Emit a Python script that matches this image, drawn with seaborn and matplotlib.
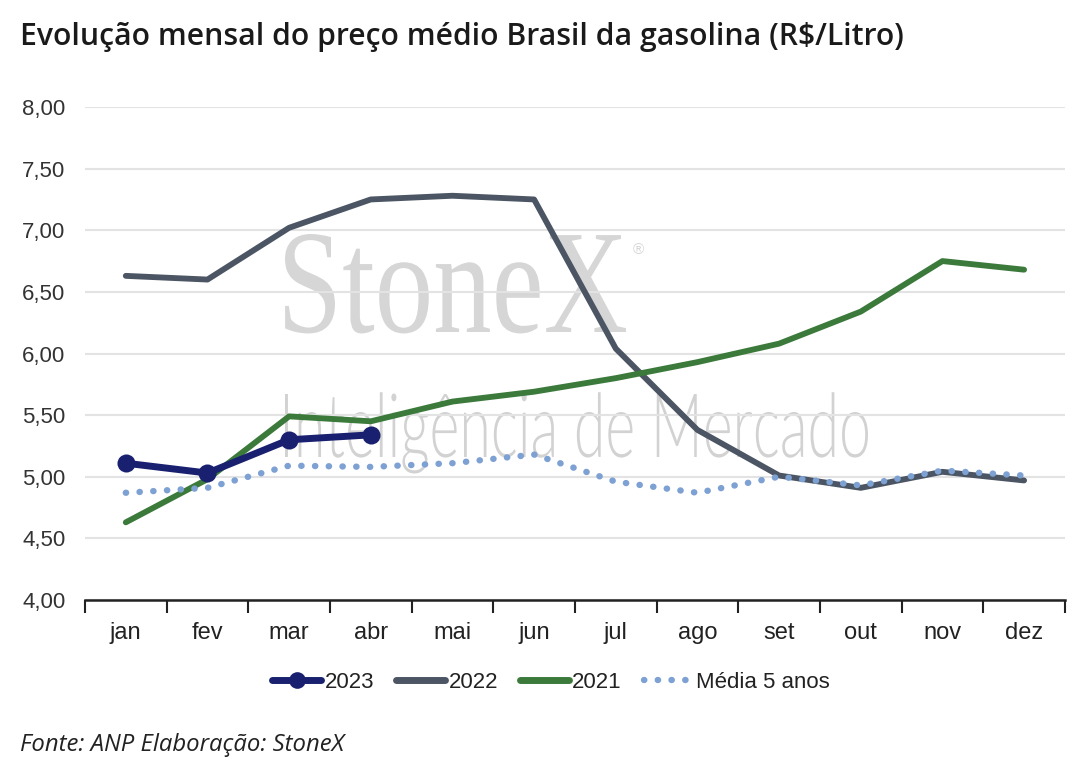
import matplotlib
matplotlib.use("Agg")
import matplotlib.pyplot as plt
import seaborn as sns
import pandas as pd
from matplotlib.lines import Line2D
from matplotlib.textpath import TextPath
from matplotlib.patches import PathPatch
from matplotlib.font_manager import FontProperties
from matplotlib.transforms import Affine2D, IdentityTransform

months = ["jan", "fev", "mar", "abr", "mai", "jun", "jul", "ago", "set", "out", "nov", "dez"]
y2023 = [5.11, 5.03, 5.30, 5.34]
y2022 = [6.63, 6.60, 7.02, 7.25, 7.28, 7.25, 6.04, 5.38, 5.01, 4.91, 5.04, 4.97]
y2021 = [4.63, 4.98, 5.49, 5.45, 5.61, 5.69, 5.80, 5.93, 6.08, 6.34, 6.75, 6.68]
media5 = [4.87, 4.91, 5.09, 5.08, 5.11, 5.18, 4.96, 4.87, 5.00, 4.93, 5.05, 5.01]
yticks = [4.0, 4.5, 5.0, 5.5, 6.0, 6.5, 7.0, 7.5, 8.0]
title = "Evolução mensal do preço médio Brasil da gasolina (R$/Litro)"
source = "Fonte: ANP Elaboração: StoneX"

c2023 = "#19206f"
c2022 = "#4b5563"
c2021 = "#3b7a3b"
cmed = "#7ea1d3"

sns.set_theme(style="white")
plt.rcParams["font.family"] = ["Liberation Sans", "DejaVu Sans"]

W, H = 1085, 771
fig = plt.figure(figsize=(W / 100, H / 100), dpi=100)
ax = fig.add_axes([0.0783, 0.2218, 0.9032, 0.6394])


def frame(vals):
    return pd.DataFrame({"x": list(range(len(vals))), "y": vals})


def watermark(text, prop, x0, x1, ytop, ybase, color, ref="I"):
    """Place text path so its width spans x0..x1 and cap height spans ytop..ybase (pixels from top)."""
    tp = TextPath((0, 0), text, size=1, prop=prop)
    ext = tp.get_extents()
    cap = TextPath((0, 0), ref, size=1, prop=prop).get_extents()
    sx = (x1 - x0) / ext.width
    sy = (ybase - ytop) / cap.y1
    tr = Affine2D().translate(-ext.x0, 0).scale(sx, sy).translate(x0, H - ybase)
    patch = PathPatch(tr.transform_path(tp), facecolor=color, edgecolor="none",
                      transform=IdentityTransform(), zorder=0.5, clip_on=False)
    ax.add_patch(patch)


watermark("StoneX", FontProperties(family="Liberation Serif"), 285, 626, 234, 332, "#d6d6d6", ref="S")
ax.text(0.559, 0.71, "®", transform=ax.transAxes, fontsize=11, color="#d6d6d6",
        ha="left", va="center", zorder=0.5)
watermark("Inteligência de Mercado", FontProperties(family="Lato", weight=300),
          285, 868, 394, 457, "#d2d2d2", ref="I")

sns.lineplot(data=frame(y2022), x="x", y="y", ax=ax, color=c2022, linewidth=4.2,
             solid_capstyle="round", zorder=3)
sns.lineplot(data=frame(y2021), x="x", y="y", ax=ax, color=c2021, linewidth=4.2,
             solid_capstyle="round", zorder=3)
sns.lineplot(data=frame(media5), x="x", y="y", ax=ax, color=cmed, linewidth=4.6,
             linestyle=(0, (0.05, 2.1)), dash_capstyle="round", zorder=4)
sns.lineplot(data=frame(y2023), x="x", y="y", ax=ax, color=c2023, linewidth=5,
             marker="o", markersize=13, markeredgewidth=0, solid_capstyle="round", zorder=5)

ax.set_xlim(-0.5, 11.5)
ax.set_ylim(4.0, 8.0)
ax.set_yticks(yticks)
ax.set_yticklabels([f"{v:.2f}".replace(".", ",") for v in yticks])
ax.set_xticks(range(len(months)))
ax.set_xticklabels(months)
ax.set_xticks([i - 0.5 for i in range(len(months) + 1)], minor=True)
ax.tick_params(axis="x", which="major", length=0, pad=16, labelsize=17, labelcolor="#222222")
ax.tick_params(axis="x", which="minor", length=9, width=1.5, color="#222222", direction="out", bottom=True)
ax.tick_params(axis="y", length=0, pad=14, labelsize=16, labelcolor="#333333")
ax.set_xlabel("")
ax.set_ylabel("")
ax.grid(axis="y", color="#e3e3e3", linewidth=1.5)
ax.grid(axis="x", visible=False)
for s in ["top", "right", "left"]:
    ax.spines[s].set_visible(False)
ax.spines["bottom"].set_color("#222222")
ax.spines["bottom"].set_linewidth(1.8)
ax.spines["bottom"].set_zorder(6)

handles = [
    Line2D([0, 0.5, 1], [0, 0, 0], color=c2023, linewidth=5, marker="o", markersize=12,
           markevery=[1], markeredgewidth=0),
    Line2D([], [], color=c2022, linewidth=5, solid_capstyle="round"),
    Line2D([], [], color=c2021, linewidth=5, solid_capstyle="round"),
    Line2D([], [], color=cmed, linewidth=4.6, linestyle=(0, (0.05, 2.1)), dash_capstyle="round"),
]
fig.legend(handles, ["2023", "2022", "2021", "Média 5 anos"], loc="center",
           bbox_to_anchor=(0.508, 0.115), ncol=4, frameon=False, fontsize=16,
           handlelength=2.2, handletextpad=0.15, columnspacing=1.0, labelcolor="#222222")

fig.text(0.018, 0.952, title, fontsize=21.7, fontweight="semibold", family="Open Sans",
         color="#1a1a1a", ha="left", va="center")
fig.text(0.018, 0.034, source, fontsize=17.2, style="italic", family="Open Sans",
         color="#222222", ha="left", va="center")

fig.savefig("out.png", dpi=100)
